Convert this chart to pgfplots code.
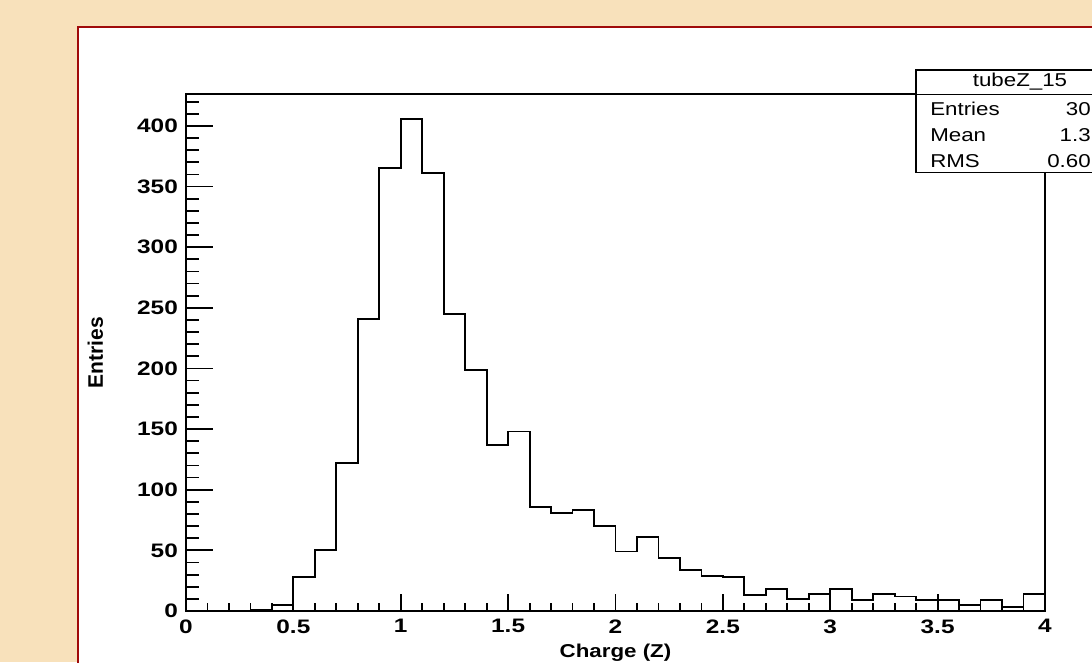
\documentclass[border=0pt]{standalone}
\usepackage{pgfplots}
\pgfplotsset{compat=1.18}
\usepackage{fontspec}
\setmainfont{Liberation Sans}

\definecolor{bgbeige}{HTML}{F8E1BB}
\definecolor{framered}{HTML}{A00A0A}
\newcommand{\lbl}{\fontsize{18.6}{22}\selectfont}
\newcommand{\tlbl}{\fontsize{19.5}{22}\selectfont}

\begin{document}
\begin{tikzpicture}
\useasboundingbox (0,0) rectangle (1092pt,662pt);
\clip (0,0) rectangle (1092pt,662pt);
\fill[bgbeige] (0,0) rectangle (1092pt,662pt);
\filldraw[fill=white, draw=framered, line width=1.5pt] (78pt,-20pt) rectangle (1200pt,635pt);

\pgfplotsset{
  roothist/.style={
    at={(186pt,51pt)}, anchor=south west,
    scale only axis, width=859pt, height=517pt,
    xmin=0, xmax=4, ymin=0, ymax=426.3,
    axis line style={line width=1.8pt, black},
    every tick/.style={black, line width=1.8pt},
    tick align=inside,
    /pgf/number format/assume math mode=true,
    ticklabel style={font=\tlbl\bfseries, xscale=1.25},
  }
}

% x axis ticks and the histogram
\begin{axis}[roothist,
    xtick distance=0.5, minor x tick num=4,
    xtick pos=bottom, ytick=\empty,
    major tick length=17pt, minor tick length=8pt,
    xticklabel style={yshift=-5pt},
    xlabel={Charge (Z)},
    xlabel style={font=\lbl\bfseries, xscale=1.2, at={(axis description cs:0.5,0)}, anchor=base, yshift=-46pt},
]
\addplot[const plot, line width=1.8pt, black] coordinates {
  (0.0,0) (0.1,0) (0.2,0) (0.3,1) (0.4,5) (0.5,28) (0.6,50) (0.7,122)
  (0.8,241) (0.9,365) (1.0,406) (1.1,361) (1.2,245) (1.3,199) (1.4,137)
  (1.5,148) (1.6,86) (1.7,81) (1.8,83) (1.9,70) (2.0,49) (2.1,61)
  (2.2,44) (2.3,34) (2.4,29) (2.5,28) (2.6,13) (2.7,18) (2.8,10)
  (2.9,14) (3.0,18) (3.1,9) (3.2,14) (3.3,12) (3.4,9) (3.5,9)
  (3.6,5) (3.7,9) (3.8,3) (3.9,14) (4.0,14)
};
\end{axis}

% y axis ticks
\begin{axis}[roothist,
    ytick distance=50, minor y tick num=4,
    ytick pos=left, xtick=\empty,
    major tick length=27pt, minor tick length=13pt,
    yticklabel style={xshift=-3pt},
    ylabel={Entries},
    ylabel style={font=\fontsize{21}{24}\selectfont\bfseries, at={(axis description cs:0,0.5)}, anchor=base, yshift=83pt},
]
\end{axis}

% statistics box
\filldraw[fill=white, draw=black, line width=1.5pt] (916pt,489.3pt) rectangle (1124pt,592pt);
\draw[line width=1.5pt] (916pt,567.7pt) -- (1124pt,567.7pt);
\node[font=\lbl, xscale=1.2] at (1020pt,580pt) {tubeZ\_15};
\node[font=\lbl, xscale=1.2, anchor=base west] at (926pt,546.3pt) {Entries};
\node[font=\lbl, xscale=1.2, anchor=base west] at (926pt,520.2pt) {Mean};
\node[font=\lbl, xscale=1.2, anchor=base west] at (926pt,494.3pt) {RMS};
\node[font=\lbl, xscale=1.2, anchor=base east, inner sep=0pt] at (1091pt,546.3pt) {30};
\node[font=\lbl, xscale=1.2, anchor=base east, inner sep=0pt] at (1091pt,520.2pt) {1.3};
\node[font=\lbl, xscale=1.2, anchor=base east, inner sep=0pt] at (1091pt,494.3pt) {0.60};
\end{tikzpicture}
\end{document}
